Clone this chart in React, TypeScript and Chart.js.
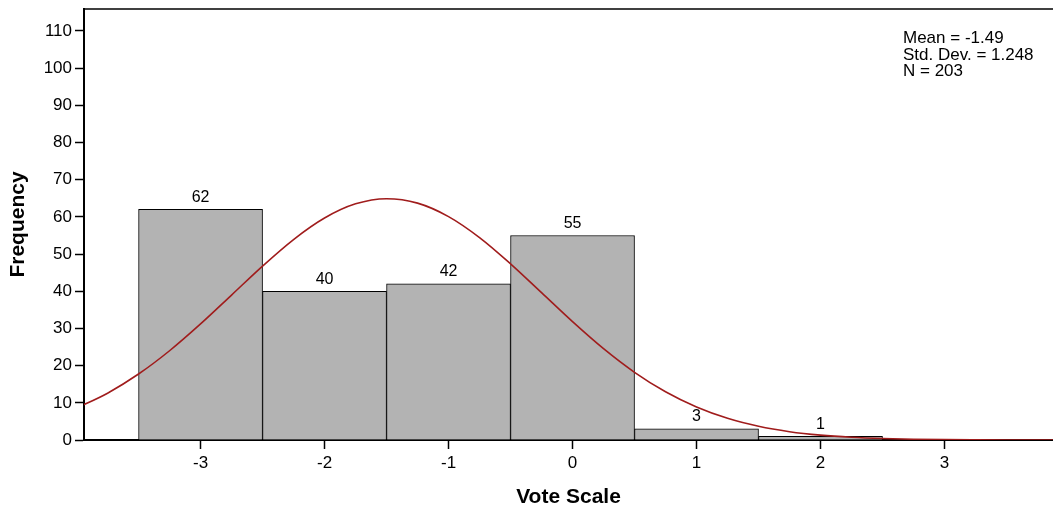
import React, { useEffect, useRef } from "react";
import { Chart, registerables } from "chart.js";

Chart.register(...registerables);

const binCenters = [-3, -2, -1, 0, 1, 2];
const frequencies = [62, 40, 42, 55, 3, 1];
const xTickValues = [-3, -2, -1, 0, 1, 2, 3];
const curveX = [-4, -3.75, -3.5, -3.25, -3, -2.75, -2.5, -2.25, -2, -1.75, -1.5, -1.25, -1, -0.75, -0.5, -0.25, 0, 0.25, 0.5, 0.75, 1, 1.25, 1.5, 1.75, 2, 2.25, 2.5, 2.75, 3, 3.25, 3.5, 3.75, 4];
const curveY = [8.59, 12.59, 17.74, 24.0, 31.21, 38.98, 46.77, 53.91, 59.69, 63.5, 64.89, 63.7, 60.08, 54.43, 47.37, 39.61, 31.82, 24.55, 18.2, 12.96, 8.87, 5.83, 3.68, 2.23, 1.3, 0.73, 0.39, 0.2, 0.1, 0.05, 0.02, 0.01, 0.0];
const statsLines = ["Mean = -1.49", "Std. Dev. = 1.248", "N = 203"];
const xTitle = "Vote Scale";
const yTitle = "Frequency";

const FONT = "'Liberation Sans', Arial, sans-serif";

export default function App() {
  const ref = useRef<HTMLCanvasElement | null>(null);
  useEffect(() => {
    document.body.style.margin = "0";
    const canvas = ref.current;
    if (!canvas) return;
    const overlay = {
      id: "overlay",
      afterDatasetsDraw(chart: any) {
        const ctx = chart.ctx;
        const xs = chart.scales.x;
        const ys = chart.scales.y;
        const area = chart.chartArea;
        ctx.save();
        // top border
        ctx.strokeStyle = "#000";
        ctx.lineWidth = 1.5;
        ctx.beginPath();
        ctx.moveTo(area.left, area.top);
        ctx.lineTo(area.right, area.top);
        ctx.stroke();
        // data labels
        ctx.fillStyle = "#000";
        ctx.font = `16px ${FONT}`;
        ctx.textAlign = "center";
        ctx.textBaseline = "bottom";
        binCenters.forEach((c, i) => {
          ctx.fillText(String(frequencies[i]), xs.getPixelForValue(c), ys.getPixelForValue(frequencies[i]) - 4);
        });
        // stats
        ctx.textAlign = "left";
        ctx.textBaseline = "alphabetic";
        ctx.font = `17px ${FONT}`;
        statsLines.forEach((t, i) => ctx.fillText(t, 903, 43 + i * 16.6));
        // titles
        ctx.font = `bold 21px ${FONT}`;
        ctx.textAlign = "center";
        ctx.textBaseline = "middle";
        ctx.fillText(xTitle, (area.left + area.right) / 2, 497);
        ctx.translate(18, (area.top + area.bottom) / 2);
        ctx.rotate(-Math.PI / 2);
        ctx.fillText(yTitle, 0, 0);
        ctx.restore();
      },
    };
    const chart = new Chart(canvas, {
      type: "bar",
      data: {
        datasets: [
          {
            type: "line",
            data: curveX.map((x, i) => ({ x, y: curveY[i] })),
            borderColor: "#a01c1c",
            borderWidth: 1.6,
            pointRadius: 0,
            tension: 0.4,
            cubicInterpolationMode: "monotone",
            fill: false,
            clip: 0,
            order: 0,
          } as any,
          {
            type: "bar",
            data: binCenters.map((x, i) => ({ x, y: frequencies[i] })),
            backgroundColor: "#b3b3b3",
            borderColor: "#000",
            borderWidth: 1,
            barPercentage: 1,
            categoryPercentage: 1,
            order: 1,
          } as any,
        ],
      },
      options: {
        animation: false,
        responsive: false,
        maintainAspectRatio: false,
        layout: { padding: { top: 9, right: 0, left: 0, bottom: 0 } },
        plugins: { legend: { display: false }, tooltip: { enabled: false } },
        scales: {
          x: {
            type: "linear",
            offset: false,
            min: -3.94,
            max: 3.875,
            afterBuildTicks: (s: any) => {
              s.ticks = xTickValues.map((v) => ({ value: v }));
            },
            afterFit: (s: any) => {
              s.height = 66;
              s.paddingLeft = 0;
              s.paddingRight = 0;
            },
            grid: { offset: false, drawOnChartArea: false, drawTicks: true, tickLength: 9, tickColor: "#000", tickWidth: 1.5 },
            border: { display: true, color: "#000", width: 2 },
            ticks: { color: "#000", font: { family: FONT, size: 17 }, padding: 4, maxRotation: 0, autoSkip: false },
          },
          y: {
            type: "linear",
            min: 0,
            max: 115.9,
            ticks: { stepSize: 10, color: "#000", font: { family: FONT, size: 17 }, padding: 3 },
            afterBuildTicks: (s: any) => {
              s.ticks = s.ticks.filter((t: any) => t.value <= 110 && Math.abs(t.value % 10) < 1e-6);
            },
            afterFit: (s: any) => {
              s.width = 84;
              s.paddingTop = 0;
              s.paddingBottom = 0;
            },
            grid: { drawOnChartArea: false, drawTicks: true, tickLength: 9, tickColor: "#000", tickWidth: 1.5 },
            border: { display: true, color: "#000", width: 2 },
          },
        },
      } as any,
      plugins: [overlay],
    });
    return () => chart.destroy();
  }, []);
  return (
    <div style={{ position: "absolute", left: 0, top: 0, width: 1053, height: 506, background: "#fff" }}>
      <canvas ref={ref} width={1053} height={506} style={{ width: 1053, height: 506 }} />
    </div>
  );
}
